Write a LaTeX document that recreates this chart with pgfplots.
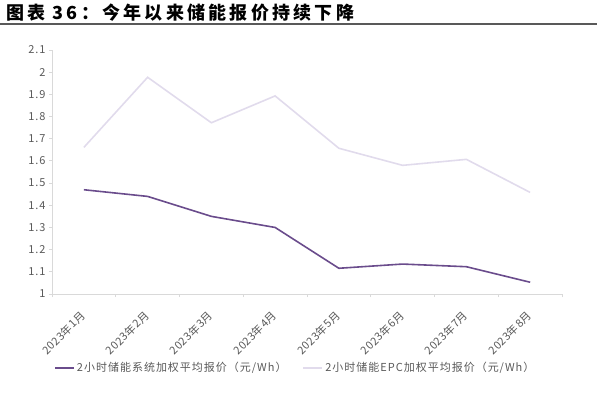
\documentclass[border=0pt]{standalone}
\usepackage{fontspec}
\setmainfont{Noto Sans CJK SC}
\usepackage{pgfplots}
\pgfplotsset{compat=1.18}
\definecolor{darkp}{HTML}{6A4C8C}
\definecolor{lightp}{HTML}{E1DBEC}
\definecolor{axgray}{HTML}{D9D9D9}
\definecolor{txtgray}{HTML}{595959}
\begin{document}
\begin{tikzpicture}
\path[use as bounding box] (0pt,0pt) rectangle (597pt,392pt);
\node[anchor=west,inner sep=0pt,font=\fontsize{18}{18}\selectfont\bfseries\addfontfeatures{LetterSpace=18}] at (6pt,379pt) {图表 36：今年以来储能报价持续下降};
\draw[color=black!65, line width=1.5pt] (0pt,368pt) -- (597pt,368pt);
\begin{axis}[
  at={(52pt,98pt)}, anchor=south west,
  width=510pt, height=244pt, scale only axis,
  xmin=-0.5, xmax=7.5, ymin=1, ymax=2.1,
  axis lines*=left,
  axis line style={draw=axgray, line width=1pt},
  xtick={0,...,7},
  xticklabels={2023年1月,2023年2月,2023年3月,2023年4月,2023年5月,2023年6月,2023年7月,2023年8月},
  x tick label style={rotate=45, anchor=north east, font=\fontsize{11}{11}\selectfont\addfontfeatures{LetterSpace=4}, text=txtgray, inner sep=1pt, xshift=-11pt, yshift=-5pt},
  minor xtick={-0.5,0.5,...,7.5},
  ytick={1,1.1,...,2.1},
  yticklabels={1,1.1,1.2,1.3,1.4,1.5,1.6,1.7,1.8,1.9,2,2.1},
  y tick label style={font=\fontsize{11}{11}\selectfont\addfontfeatures{LetterSpace=8}, text=txtgray},
  /pgf/number format/assume math mode=true,
  major x tick style={draw=none},
  minor x tick style={draw=axgray, line width=1pt},
  y tick style={draw=axgray, line width=1pt},
  tick align=outside,
  major tick length=3pt, minor tick length=3pt,
  legend columns=2,
  legend style={at={(axis description cs:-0.002,-0.303)}, anchor=west, draw=none, fill=none,
    font=\fontsize{11}{11}\selectfont\addfontfeatures{LetterSpace=9}, text=txtgray,
    /tikz/every even column/.append style={column sep=14pt}},
  legend cell align=left,
  legend image code/.code={\draw[#1, line width=1.8pt] (0pt,0pt) -- (19pt,0pt);},
]
\addplot[darkp, line width=1.6pt] coordinates {(0,1.47) (1,1.44) (2,1.35) (3,1.30) (4,1.116) (5,1.135) (6,1.123) (7,1.053)};
\addlegendentry{2小时储能系统加权平均报价（元/Wh）}
\addplot[lightp, line width=1.6pt] coordinates {(0,1.661) (1,1.977) (2,1.772) (3,1.893) (4,1.657) (5,1.58) (6,1.607) (7,1.458)};
\addlegendentry{2小时储能EPC加权平均报价（元/Wh）}
\end{axis}
\end{tikzpicture}
\end{document}
